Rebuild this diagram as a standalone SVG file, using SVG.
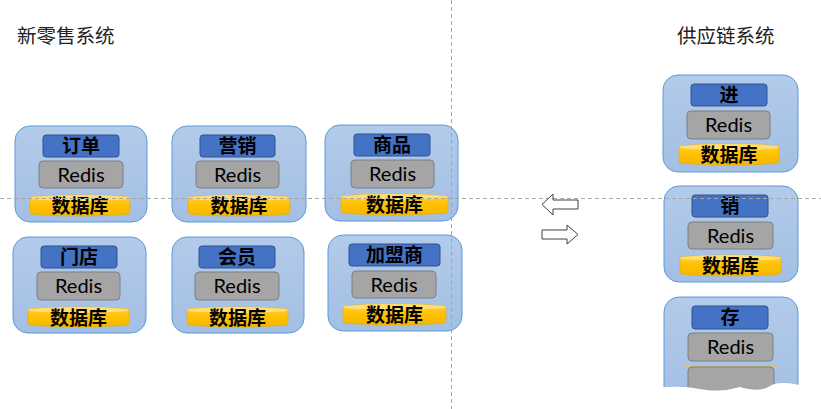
<svg xmlns="http://www.w3.org/2000/svg" width="821" height="409" viewBox="0 0 821 409">
<defs>
<linearGradient id="gOuter" x1="0" y1="0" x2="0" y2="1">
<stop offset="0" stop-color="#b3cbea"/><stop offset="1" stop-color="#a3bfe4"/>
</linearGradient>
<linearGradient id="gDb" x1="0" y1="0" x2="0" y2="1">
<stop offset="0" stop-color="#ffd24a"/><stop offset="0.5" stop-color="#ffc000"/><stop offset="1" stop-color="#f5b800"/>
</linearGradient>
<style>
.outer{fill:url(#gOuter);stroke:#5b9bd5;stroke-width:1}
.title{fill:#4472c4;stroke:#2f528f;stroke-width:1}
.redis{fill:#a5a5a5;stroke:#7f7f7f;stroke-width:1}
.db{fill:url(#gDb);stroke:#e8ad00;stroke-width:0.6}
.dbtop{fill:#ffdd6e}
.cj{font-family:"Noto Sans CJK SC","Noto Sans",sans-serif;font-size:19px;font-weight:bold;fill:#000;text-anchor:middle}
.rd{font-family:Lato,"Liberation Sans",sans-serif;font-size:20px;fill:#000;text-anchor:middle}
.hd{font-family:"Noto Sans CJK SC","Noto Sans",sans-serif;font-size:19.5px;fill:#222}
.dash{stroke:#a6a6a6;stroke-width:1;stroke-dasharray:4 3;fill:none}
.arr{fill:#fff;stroke:#404040;stroke-width:1}
</style>
</defs>
<rect width="821" height="409" fill="#fff"/>
<text class="hd" x="17" y="43">新零售系统</text>
<text class="hd" x="677" y="43">供应链系统</text>

<g id="node-dingdan">
<rect class="outer" x="15" y="126" width="132" height="96" rx="15"/>
<rect class="title" x="43" y="135" width="76" height="22" rx="3"/>
<rect class="redis" x="39" y="161" width="84" height="27" rx="4"/>
<path class="db" d="M30,198 a50,3 0 0 1 100,0 v15 a50,3 0 0 1 -100,0 z"/>
<ellipse class="dbtop" cx="80" cy="198" rx="50" ry="3"/>
<text class="cj" x="81" y="153">订单</text>
<text class="rd" x="81" y="181.5">Redis</text>
<text class="cj" x="80" y="213">数据库</text>
</g>

<g id="node-yingxiao">
<rect class="outer" x="172" y="126" width="134" height="96" rx="15"/>
<rect class="title" x="200" y="135" width="75" height="22" rx="3"/>
<rect class="redis" x="196" y="161" width="83" height="27" rx="4"/>
<path class="db" d="M188,198 a51,3 0 0 1 102,0 v15 a51,3 0 0 1 -102,0 z"/>
<ellipse class="dbtop" cx="239" cy="198" rx="51" ry="3"/>
<text class="cj" x="237.5" y="153">营销</text>
<text class="rd" x="237.5" y="181.5">Redis</text>
<text class="cj" x="239" y="213">数据库</text>
</g>

<g id="node-shangpin">
<rect class="outer" x="325" y="125" width="133" height="96" rx="15"/>
<rect class="title" x="354" y="134" width="76" height="22" rx="3"/>
<rect class="redis" x="351" y="160" width="83" height="28" rx="4"/>
<path class="db" d="M341,197 a53.5,3 0 0 1 107,0 v15 a53.5,3 0 0 1 -107,0 z"/>
<ellipse class="dbtop" cx="394.5" cy="197" rx="53.5" ry="3"/>
<text class="cj" x="392" y="152">商品</text>
<text class="rd" x="392.5" y="181">Redis</text>
<text class="cj" x="394.5" y="212">数据库</text>
</g>

<g id="node-mendian">
<rect class="outer" x="13" y="237" width="133" height="96" rx="15"/>
<rect class="title" x="41" y="246" width="76" height="22" rx="3"/>
<rect class="redis" x="37" y="272" width="83" height="28" rx="4"/>
<path class="db" d="M28,310 a50.5,3 0 0 1 101,0 v14 a50.5,3 0 0 1 -101,0 z"/>
<ellipse class="dbtop" cx="78.5" cy="310" rx="50.5" ry="3"/>
<text class="cj" x="79" y="264">门店</text>
<text class="rd" x="78.5" y="293">Redis</text>
<text class="cj" x="78.5" y="324.5">数据库</text>
</g>

<g id="node-huiyuan">
<rect class="outer" x="172" y="237" width="132" height="96" rx="15"/>
<rect class="title" x="199" y="246" width="76" height="22" rx="3"/>
<rect class="redis" x="195" y="272" width="84" height="28" rx="4"/>
<path class="db" d="M187,310 a50.5,3 0 0 1 101,0 v14 a50.5,3 0 0 1 -101,0 z"/>
<ellipse class="dbtop" cx="237.5" cy="310" rx="50.5" ry="3"/>
<text class="cj" x="237" y="264">会员</text>
<text class="rd" x="237" y="293">Redis</text>
<text class="cj" x="237.5" y="324.5">数据库</text>
</g>

<g id="node-jiamengshang">
<rect class="outer" x="328" y="235" width="134" height="96" rx="15"/>
<rect class="title" x="349" y="244" width="91" height="22" rx="3"/>
<rect class="redis" x="352" y="271" width="84" height="27" rx="4"/>
<path class="db" d="M343,307 a51.5,3 0 0 1 103,0 v15 a51.5,3 0 0 1 -103,0 z"/>
<ellipse class="dbtop" cx="394.5" cy="307" rx="51.5" ry="3"/>
<text class="cj" x="394.5" y="262">加盟商</text>
<text class="rd" x="394" y="291.5">Redis</text>
<text class="cj" x="394.5" y="322">数据库</text>
</g>

<g id="node-jin">
<rect class="outer" x="663" y="75" width="135" height="97" rx="15"/>
<rect class="title" x="691" y="84" width="76" height="22" rx="3"/>
<rect class="redis" x="687" y="111" width="83" height="28" rx="4"/>
<path class="db" d="M679,147 a50,3 0 0 1 100,0 v15 a50,3 0 0 1 -100,0 z"/>
<ellipse class="dbtop" cx="729" cy="147" rx="50" ry="3"/>
<text class="cj" x="729" y="102">进</text>
<text class="rd" x="728.5" y="132">Redis</text>
<text class="cj" x="729" y="162">数据库</text>
</g>

<g id="node-xiao">
<rect class="outer" x="664" y="186" width="134" height="96" rx="15"/>
<rect class="title" x="692" y="195" width="76" height="22" rx="3"/>
<rect class="redis" x="688" y="222" width="85" height="27" rx="4"/>
<path class="db" d="M680,258 a50.5,3 0 0 1 101,0 v15 a50.5,3 0 0 1 -101,0 z"/>
<ellipse class="dbtop" cx="730.5" cy="258" rx="50.5" ry="3"/>
<text class="cj" x="730" y="213">销</text>
<text class="rd" x="730.5" y="242.5">Redis</text>
<text class="cj" x="730.5" y="273">数据库</text>
</g>

<g id="node-cun">
<rect class="outer" x="664" y="297" width="134" height="105" rx="15"/>
<rect class="title" x="692" y="306" width="76" height="23" rx="3"/>
<rect class="redis" x="688" y="333" width="85" height="28" rx="4"/>
<line x1="683" y1="366" x2="778" y2="366" stroke="#ffc000" stroke-width="1.2"/>
<rect class="redis" x="688" y="367" width="86" height="24" rx="4"/>
<text class="cj" x="730" y="324">存</text>
<text class="rd" x="730.5" y="354">Redis</text>
<path d="M655,388 Q680,385 700,389 T740,387 Q760,393 770,386 T812,388 L812,409 L655,409 Z" fill="#fff"/>
</g>

<g id="connectors">
<line class="dash" x1="0" y1="198.5" x2="821" y2="198.5"/>
<line class="dash" x1="451.5" y1="0" x2="451.5" y2="409"/>
<path class="arr" d="M542,204.5 L553,194 L553,200 L578,200 L578,209 L553,209 L553,215 Z"/>
<path class="arr" d="M578,234.5 L567,225 L567,230 L542,230 L542,239 L567,239 L567,244 Z"/>
</g>
</svg>
